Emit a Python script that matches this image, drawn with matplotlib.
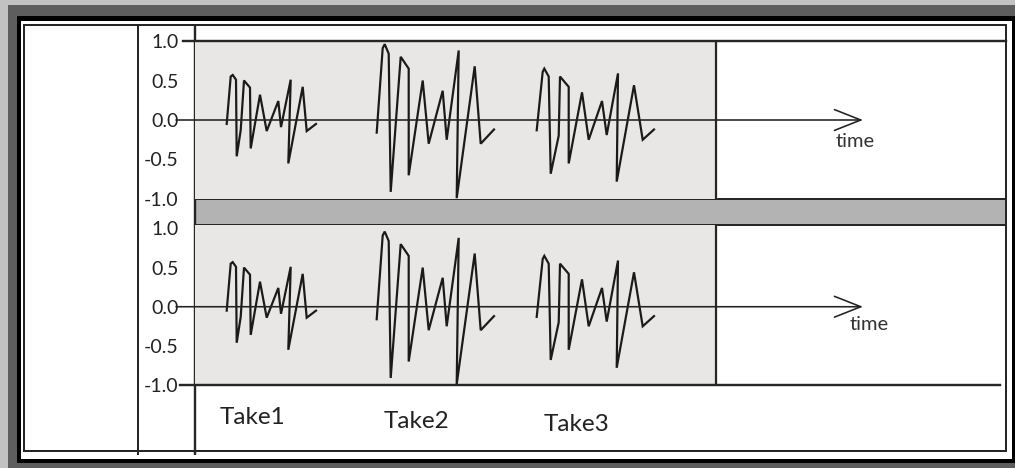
import matplotlib
matplotlib.use("Agg")
import matplotlib.pyplot as plt
from matplotlib.patches import Rectangle

plt.rcParams['font.family'] = ['Lato', 'DejaVu Sans']

# ---------------- data ----------------
tick_values = [1.0, 0.5, 0.0, -0.5, -1.0]
tick_labels = ["1.0", "0.5", "0.0", "-0.5", "-1.0"]
take_names = ["Take1", "Take2", "Take3"]
take_label_t = [57, 222, 382]
take_label_v = [-1.42, -1.47, -1.50]

take1_t = [31.7, 35.7, 37.7, 41.0, 41.7, 45.7, 49.0, 55.0, 55.7, 65.0, 71.7, 83.3, 86.0, 95.7, 93.3, 107.7, 111.7, 121.0]
take1_v = [-0.05, 0.55, 0.57, 0.51, -0.46, -0.13, 0.50, 0.41, -0.36, 0.32, -0.14, 0.24, -0.09, 0.51, -0.55, 0.42, -0.14, -0.05]
take2_t = [181.7, 187.7, 189.7, 193.7, 195.7, 205.7, 213.7, 213.7, 227.7, 233.7, 247.7, 251.7, 263.7, 261.7, 279.7, 285.7, 299.0]
take2_v = [-0.16, 0.91, 0.96, 0.84, -0.91, 0.80, 0.65, -0.70, 0.50, -0.30, 0.37, -0.25, 0.88, -0.99, 0.68, -0.30, -0.12]
take3_t = [341.7, 347.7, 349.3, 353.7, 355.7, 363.7, 365.0, 373.7, 373.7, 387.0, 393.7, 407.0, 411.7, 423.0, 421.7, 439.0, 447.7, 459.0]
take3_v = [-0.13, 0.61, 0.65, 0.55, -0.68, -0.20, 0.55, 0.42, -0.55, 0.35, -0.25, 0.24, -0.19, 0.59, -0.78, 0.44, -0.25, -0.12]

panel_end = 521
axis_end = 668
time_label = "time"

# ---------------- figure ----------------
W, H = 1015, 468
fig = plt.figure(figsize=(W / 100, H / 100), dpi=100)
fig.patch.set_facecolor("white")

bg = fig.add_axes([0, 0, 1, 1])
bg.set_xlim(0, W)
bg.set_ylim(H, 0)
bg.axis("off")

PX = 0.72  # 1 px in points
dark = "#262626"

# outer frame
bg.add_patch(Rectangle((0, 0), W, H, facecolor="#c2c2c2", edgecolor="none"))
bg.add_patch(Rectangle((8, 5), W - 8, H - 5, facecolor="#5e5e5e", edgecolor="none"))
bg.add_patch(Rectangle((17, 16), W - 17, 463 - 16, facecolor="black", edgecolor="none"))
bg.add_patch(Rectangle((21, 21), 1012 - 21, 459 - 21, facecolor="white", edgecolor="none"))
bg.add_patch(Rectangle((24.5, 24.5), 1006 - 24.5, 451 - 24.5, facecolor="none",
                       edgecolor=dark, lw=2 * PX))
# vertical divider line
bg.plot([138, 138], [24.5, 455], color=dark, lw=2 * PX, solid_capstyle="butt")

# ---------------- data axes ----------------
def px_axes(x0, y0, x1, y1):
    return fig.add_axes([x0 / W, (H - y1) / H, (x1 - x0) / W, (y1 - y0) / H])

ax_top = px_axes(195, 41, 1006, 199)
ax_bot = px_axes(195, 225, 1006, 385)
ax_top.set_ylim(-1, 1)
ax_bot.set_ylim(-(385 - 307.5) / 79, (307.5 - 225) / 79)

for ax in (ax_top, ax_bot):
    ax.set_xlim(0, 811)
    ax.patch.set_alpha(0)
    for s in ax.spines.values():
        s.set_visible(False)
    ax.set_xticks([])
    ax.set_yticks(tick_values)
    ax.set_yticklabels(tick_labels, fontsize=14, color="#222222")
    ax.tick_params(axis="y", length=0, pad=12)
    # panel
    ax.axvspan(0, panel_end, color="#e8e7e6", zorder=0)
    ax.axvline(panel_end, color=dark, lw=2.2 * PX, zorder=1)
    # waveforms
    for t, v in ((take1_t, take1_v), (take2_t, take2_v), (take3_t, take3_v)):
        ax.plot(t, v, color="#1a1a1a", lw=2.2 * PX, zorder=3, solid_joinstyle="miter")
    # zero (time) axis with arrow
    ax.annotate("", xy=(axis_end, 0), xytext=(-19, 0), annotation_clip=False,
                arrowprops=dict(arrowstyle="->,head_length=1.9,head_width=0.75",
                                color="#222222", lw=1.6 * PX, shrinkA=0, shrinkB=0,
                                mutation_scale=10), zorder=4)

ax_top.text(641, -0.27, time_label, fontsize=14.5, color="#333333", ha="left", va="center")
ax_bot.text(655, -0.23, time_label, fontsize=14.5, color="#333333", ha="left", va="center")

# panel horizontal borders
ax_top.plot([-12, 811], [1, 1], color=dark, lw=2.4 * PX, clip_on=False, zorder=2)
yb0, yb1 = ax_bot.get_ylim()
ax_bot.plot([-15, 805], [yb0, yb0], color=dark, lw=2.4 * PX, clip_on=False, zorder=2)

# grey band between panels
bg.add_patch(Rectangle((195, 199), 1006 - 195, 225 - 199, facecolor="#b3b3b3",
                       edgecolor=dark, lw=2 * PX, zorder=5))
# left panel border line
bg.plot([195, 195], [24.5, 455], color=dark, lw=2.4 * PX, solid_capstyle="butt", zorder=6)

# take labels
for name, t, v in zip(take_names, take_label_t, take_label_v):
    ax_bot.text(t, v, name, fontsize=17.5, color="#222222", ha="center", va="center",
                clip_on=False)

fig.savefig("out.png", dpi=100)
